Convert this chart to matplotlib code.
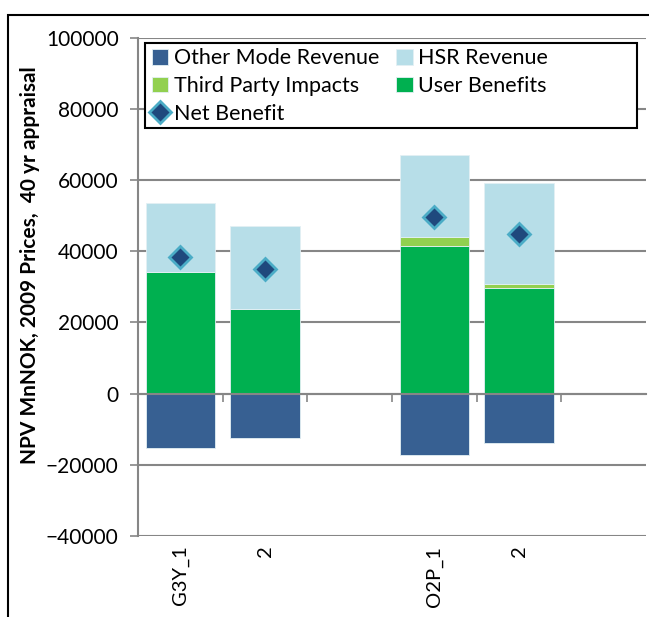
import matplotlib
matplotlib.use('Agg')
import matplotlib.pyplot as plt
import numpy as np
from matplotlib.patches import Rectangle

categories = ['G3Y_1', '2', '', 'O2P_1', '2', '']
other_mode = [-15300, -12400, np.nan, -17300, -13800, np.nan]
user_benefits = [34200, 23800, np.nan, 41500, 29700, np.nan]
third_party = [0, 0, np.nan, 2500, 1000, np.nan]
hsr_revenue = [19300, 23300, np.nan, 23000, 28300, np.nan]
net_benefit = [38300, 34900, np.nan, 49500, 44800, np.nan]

plt.rcParams['font.family'] = ['Lato', 'DejaVu Sans']

fig = plt.figure(figsize=(6.49, 6.17), dpi=100)
ax = fig.add_axes([138/649, 1-536/617, 508/649, (536-37.5)/617])

x = np.arange(len(categories))
w = 0.82
edge = dict(edgecolor='#e3f0f4', linewidth=0.6)
b_other = ax.bar(x, other_mode, w, color='#376092', label='Other Mode Revenue', zorder=3, **edge)
b_user = ax.bar(x, user_benefits, w, color='#00B050', label='User Benefits', zorder=3, **edge)
base = np.nan_to_num(user_benefits)
b_third = ax.bar(x, third_party, w, bottom=base, color='#92D050', label='Third Party Impacts', zorder=3, **edge)
base = base + np.nan_to_num(third_party)
b_hsr = ax.bar(x, hsr_revenue, w, bottom=base, color='#B7DEE8', label='HSR Revenue', zorder=3, **edge)
l_net, = ax.plot(x, net_benefit, linestyle='none', marker='D', markersize=11, color='#1F497D',
                 markeredgecolor='#4BACC6', markeredgewidth=2, label='Net Benefit', zorder=4)

ax.set_xlim(-0.5, len(categories) - 0.5)
ax.set_ylim(-40000, 100000)
ax.set_yticks(np.arange(-40000, 100001, 20000))
ax.yaxis.grid(True, color='#868686', linewidth=1.5, zorder=0)
ax.tick_params(axis='y', labelsize=15, length=6, width=1.2, color='#868686', pad=8)

for s in ['top', 'right']:
    ax.spines[s].set_visible(False)
ax.spines['left'].set_color('#868686')
ax.spines['left'].set_linewidth(1.5)
ax.spines['bottom'].set_position(('data', 0))
ax.spines['bottom'].set_color('#868686')
ax.spines['bottom'].set_linewidth(1.5)
ax.spines['bottom'].set_zorder(5)
ax.set_xticks(x[:-1] + 0.5)
ax.set_xticklabels([])
ax.tick_params(axis='x', length=6, width=1.2, color='#868686')

sec = ax.secondary_xaxis('bottom')
sec.set_xticks(x)
sec.set_xticklabels(categories, rotation=90, fontsize=14.5, va='top')
sec.tick_params(length=0, pad=7)
sec.spines['bottom'].set_visible(False)

fig.text(30/649, 1-265/617, 'NPV MnNOK, 2009 Prices,  40 yr appraisal', rotation=90,
         ha='center', va='center', fontsize=15, fontweight='bold')

leg = fig.legend([b_other, b_third, l_net, b_hsr, b_user],
                 ['Other Mode Revenue', 'Third Party Impacts', 'Net Benefit', 'HSR Revenue', 'User Benefits'],
                 ncol=2, loc='upper left', bbox_to_anchor=(148/649, 1-44/617),
                 borderaxespad=0, fontsize=15.5, frameon=False,
                 handlelength=0.75, handleheight=0.75, handletextpad=0.25,
                 labelspacing=0.36, borderpad=0.2, columnspacing=0.8)

fig.patches.append(Rectangle((145/649, 1-128/617), (637-145)/649, 85/617, transform=fig.transFigure,
                             facecolor='white', edgecolor='black', linewidth=1.5, zorder=2.5))
leg.set_zorder(6)

fig.patches.append(Rectangle((8/649, -0.2), 1.2, 1.2 - 15/617, transform=fig.transFigure,
                             fill=False, edgecolor='black', linewidth=1.5))

fig.savefig('out.png', dpi=100)
